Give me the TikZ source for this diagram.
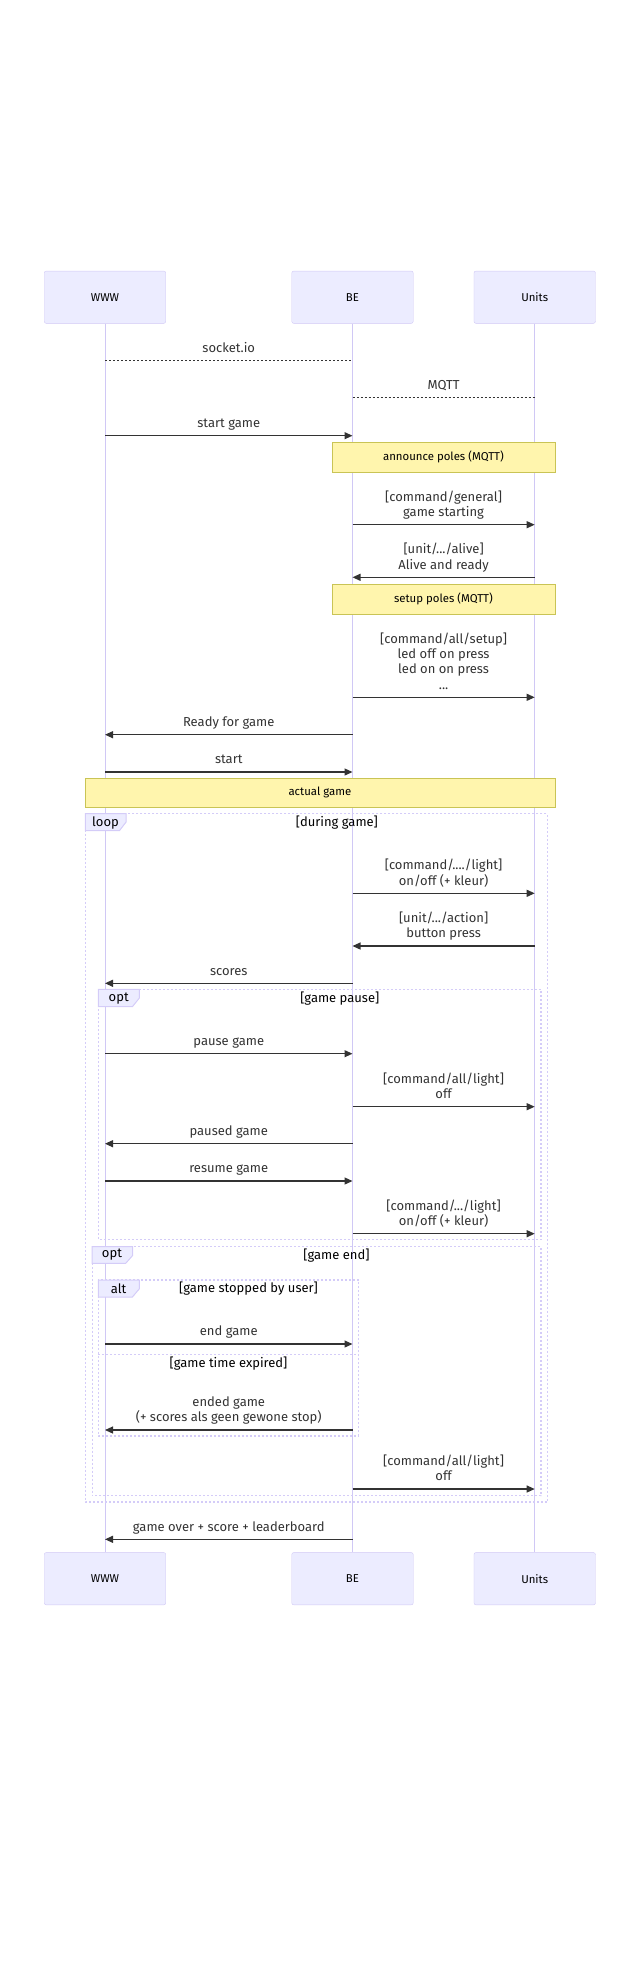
\documentclass[tikz,border=0pt]{standalone}
\usepackage{fontspec}
\setmainfont{Fira Sans}
\usetikzlibrary{arrows.meta}
\definecolor{actorfill}{HTML}{ECECFF}
\definecolor{actorline}{HTML}{D0C8F5}
\definecolor{frameline}{HTML}{D4CCF8}
\definecolor{notefill}{HTML}{FFF5AD}
\definecolor{noteline}{HTML}{C9C455}
\definecolor{ink}{HTML}{333333}
\tikzset{
    >={Triangle[length=8pt,width=7pt]},
    actor/.style={draw=actorline, fill=actorfill, rounded corners=2pt, minimum width=121.5pt, minimum height=52.3pt, font=\fontsize{11.4}{13}\selectfont, text=black},
    lifeline/.style={draw=actorline, line width=1pt},
    msg/.style={draw=ink, line width=1.2pt},
    dots/.style={draw=ink, line width=1pt, dash pattern=on 2pt off 2pt},
    lbl/.style={midway, above=7.5pt, inner sep=0pt, text depth=0pt, align=center, font=\fontsize{13}{15.4}\selectfont, text=ink},
    note/.style={draw=noteline, fill=notefill, minimum height=30pt, font=\fontsize{11.4}{13}\selectfont, text=black},
    frame/.style={draw=frameline, line width=1.2pt, dash pattern=on 2pt off 2pt},
    tab/.style={draw=frameline, fill=actorfill, line width=1pt},
    tabtext/.style={font=\fontsize{13}{15}\selectfont, text=black},
    cond/.style={font=\fontsize{13}{15}\selectfont, text=black},
}
\begin{document}
\begin{tikzpicture}[x=1pt, y=-1pt]
    \useasboundingbox (0,0) rectangle (640,1965);
    %actors
    \node[actor] (www) at (105,297.2) {WWW};
    \node[actor] (be) at (352.5,297.2) {BE};
    \node[actor] (units) at (534.7,297.2) {Units};
    \node[actor] (wwwend) at (105,1578.7) {WWW};
    \node[actor] (beend) at (352.5,1578.7) {BE};
    \node[actor] (unitsend) at (534.7,1578.7) {Units};
    \draw[lifeline] (www) -- (wwwend);
    \draw[lifeline] (be) -- (beend);
    \draw[lifeline] (units) -- (unitsend);
    %links
    \coordinate (socket) at (0,360.7);
    \draw[dots] (www |- socket) -- (be |- socket) node[lbl] {socket.io};
    \coordinate (mqtt) at (0,397.7);
    \draw[dots] (be |- mqtt) -- (units |- mqtt) node[lbl] {MQTT};
    %start
    \coordinate (startgame) at (0,435.7);
    \draw[msg, ->] (www |- startgame) -- (be |- startgame) node[lbl] {start game};
    \node[note, minimum width=223.3pt] (announce) at (443.4,457) {announce poles (MQTT)};
    \coordinate (general) at (0,524.7);
    \draw[msg, ->] (be |- general) -- (units |- general) node[lbl] {[command/general]\\game starting};
    \coordinate (alive) at (0,577.3);
    \draw[msg, ->] (units |- alive) -- (be |- alive) node[lbl] {[unit/.../alive]\\Alive and ready};
    \node[note, minimum width=223.3pt] (setup) at (443.4,598.8) {setup poles (MQTT)};
    \coordinate (setupcmd) at (0,697.3);
    \draw[msg, ->] (be |- setupcmd) -- (units |- setupcmd) node[lbl] {[command/all/setup]\\led off on press\\led on on press\\...};
    \coordinate (ready) at (0,734.7);
    \draw[msg, ->] (be |- ready) -- (www |- ready) node[lbl] {Ready for game};
    \coordinate (start) at (0,772);
    \draw[msg, ->] (www |- start) -- (be |- start) node[lbl] {start};
    \node[note, minimum width=470.3pt, minimum height=29pt] (actual) at (319.9,792.8) {actual game};
    %loop
    \draw[frame] (85.4,813.7) rectangle (547.6,1502);
    \draw[tab] (85.4,813.7) -- (126.1,813.7) -- (126.1,822) -- (119.4,830.7) -- (85.4,830.7) -- cycle;
    \node[tabtext] (looptab) at (105.5,822.5) {loop};
    \node[cond] (during) at (336.9,822.7) {[during game]};
    \coordinate (light) at (0,893.3);
    \draw[msg, ->] (be |- light) -- (units |- light) node[lbl] {[command/..../light]\\on/off (+ kleur)};
    \coordinate (action) at (0,946);
    \draw[msg, ->] (units |- action) -- (be |- action) node[lbl] {[unit/.../action]\\button press};
    \coordinate (scores) at (0,983.3);
    \draw[msg, ->] (be |- scores) -- (www |- scores) node[lbl] {scores};
    %pause
    \draw[frame] (98.3,989.3) rectangle (541,1239.7);
    \draw[tab] (98.3,989.3) -- (139.4,989.3) -- (139.4,998) -- (132.4,1006.7) -- (98.3,1006.7) -- cycle;
    \node[tabtext] (pausetab) at (118.7,998.5) {opt};
    \node[cond] (pausecond) at (339.8,999) {[game pause]};
    \coordinate (pause) at (0,1053.7);
    \draw[msg, ->] (www |- pause) -- (be |- pause) node[lbl] {pause game};
    \coordinate (alloff) at (0,1106.7);
    \draw[msg, ->] (be |- alloff) -- (units |- alloff) node[lbl] {[command/all/light]\\off};
    \coordinate (paused) at (0,1143.7);
    \draw[msg, ->] (be |- paused) -- (www |- paused) node[lbl] {paused game};
    \coordinate (resume) at (0,1181);
    \draw[msg, ->] (www |- resume) -- (be |- resume) node[lbl] {resume game};
    \coordinate (relight) at (0,1233.7);
    \draw[msg, ->] (be |- relight) -- (units |- relight) node[lbl] {[command/.../light]\\on/off (+ kleur)};
    %end
    \draw[frame] (92.1,1246.7) rectangle (541,1495.7);
    \draw[tab] (92.1,1246.7) -- (132.7,1246.7) -- (132.7,1255.4) -- (125.7,1263.3) -- (92.1,1263.3) -- cycle;
    \node[tabtext] (endtab) at (112,1255) {opt};
    \node[cond] (endcond) at (336.5,1255.7) {[game end]};
    \draw[frame] (98.3,1280) rectangle (358.7,1436);
    \draw[frame] (98.3,1354.7) -- (358.7,1354.7);
    \draw[tab] (98.3,1280) -- (139.4,1280) -- (139.4,1288.7) -- (132.4,1297) -- (98.3,1297) -- cycle;
    \node[tabtext] (alttab) at (118.7,1288.5) {alt};
    \node[cond] (stopped) at (248.5,1289) {[game stopped by user]};
    \node[cond] (expired) at (228.5,1363.7) {[game time expired]};
    \coordinate (endgame) at (0,1344);
    \draw[msg, ->] (www |- endgame) -- (be |- endgame) node[lbl] {end game};
    \coordinate (ended) at (0,1430);
    \draw[msg, ->] (be |- ended) -- (www |- ended) node[lbl] {ended game\\(+ scores als geen gewone stop)};
    \coordinate (finaloff) at (0,1489);
    \draw[msg, ->] (be |- finaloff) -- (units |- finaloff) node[lbl] {[command/all/light]\\off};
    \coordinate (over) at (0,1539.3);
    \draw[msg, ->] (be |- over) -- (www |- over) node[lbl] {game over + score + leaderboard};
\end{tikzpicture}
\end{document}
